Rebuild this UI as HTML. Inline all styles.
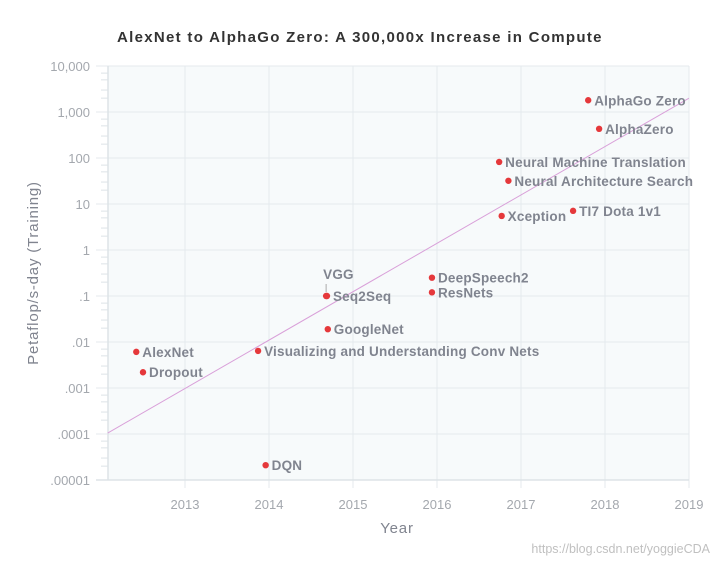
<!DOCTYPE html>
<html><head><meta charset="utf-8"><style>
body{margin:0;background:#fff;}
svg{display:block;font-family:"Liberation Sans",sans-serif;}
.lbl{fill:#80848f;font-weight:bold;font-size:13.5px;letter-spacing:0.2px;}
.tick{fill:#a4a8ae;font-size:13px;}
</style></head><body>
<svg id="chart" width="720" height="564">
<text x="117" y="42" font-size="15" font-weight="bold" fill="#333" letter-spacing="1.3">AlexNet to AlphaGo Zero: A 300,000x Increase in Compute</text>
<rect x="108" y="66" width="581" height="414" fill="#f7fafb"/>
<g id="grid"></g><g id="axes"></g><g id="trend"></g><g id="points"></g>
<text x="397" y="533" font-size="15" fill="#80848f" letter-spacing="0.8" text-anchor="middle">Year</text>
<text transform="translate(38,273) rotate(-90)" font-size="15" fill="#80848f" letter-spacing="0.8" text-anchor="middle">Petaflop/s-day (Training)</text>
<text x="710" y="553" font-size="12.5" fill="#c0c0c0" text-anchor="end">https://blog.csdn.net/yoggieCDA</text>
</svg>
<script>
const names=["AlexNet","Dropout","Visualizing and Understanding Conv Nets","DQN","VGG","Seq2Seq","GoogleNet","DeepSpeech2","ResNets","Neural Machine Translation","Neural Architecture Search","Xception","TI7 Dota 1v1","AlphaGo Zero","AlphaZero"];
const years=[2012.42,2012.5,2013.87,2013.96,2014.68,2014.69,2014.70,2015.94,2015.94,2016.74,2016.85,2016.77,2017.62,2017.8,2017.93];
const compute=[0.0061,0.0022,0.0064,0.000021,0.1,0.1,0.019,0.25,0.12,82,32,5.5,7.1,1800,430];
const xTicks=[2013,2014,2015,2016,2017,2018,2019];
const yTicks=[0.00001,0.0001,0.001,0.01,0.1,1,10,100,1000,10000];
const yTickLabels=[".00001",".0001",".001",".01",".1","1","10","100","1,000","10,000"];
const trendYears=[2012.08,2019];
const trendValues=[0.000105,2000];
const NS="http://www.w3.org/2000/svg";
const xs=y=>185+(y-2013)*84;
const ys=v=>66+(4-Math.log10(v))*46;
function mk(t,a,p){const e=document.createElementNS(NS,t);for(const k in a)e.setAttribute(k,a[k]);p.appendChild(e);return e;}
const grid=document.getElementById('grid'),axes=document.getElementById('axes');
xTicks.forEach(t=>{
 const l=mk('line',{x1:xs(t),x2:xs(t),y1:66,y2:488,stroke:'#e4eaee'},grid);
 
 
 const tx=mk('text',{x:xs(t),y:509,class:'tick','text-anchor':'middle'},axes);tx.textContent=t;
 
 
});
yTicks.forEach((t,i)=>{
 const l=mk('line',{x1:96,x2:689,y1:ys(t),y2:ys(t),stroke:'#e4eaee'},grid);
 
 
 const tx=mk('text',{x:90,y:ys(t)+5,class:'tick','text-anchor':'end'},axes);tx.textContent=yTickLabels[i];
 
 
 if(i<yTicks.length-1){[2,3,5,7].forEach(m=>{mk('line',{x1:101,x2:108,y1:ys(t*m),y2:ys(t*m),stroke:'#dde3e7'},axes);});}
});
mk('line',{x1:108,x2:108,y1:66,y2:480,stroke:'#dde3e7','stroke-width':1.5},axes);
mk('line',{x1:96,x2:689,y1:480,y2:480,stroke:'#dde3e7','stroke-width':1.5},axes);
const tr=mk('line',{x1:xs(trendYears[0]),y1:ys(trendValues[0]),x2:xs(trendYears[1]),y2:ys(trendValues[1]),stroke:'#d9a0d9','stroke-width':1},document.getElementById('trend'));


const pg=document.getElementById('points');
names.forEach((n,i)=>{
 const x=xs(years[i]),y=ys(compute[i]);
 const c=mk('circle',{cx:x,cy:y,r:3.2,fill:'#e5383b'},pg);
 
 
 let tx;
 if(n==="VGG"){
  mk('line',{x1:x,x2:x,y1:y-4,y2:y-12,stroke:'#aaa'},pg);
  tx=mk('text',{x:x-3,y:y-17,class:'lbl'},pg);
 } else tx=mk('text',{x:x+6,y:y+5,class:'lbl'},pg);
 tx.textContent=n;
 
 
});
</script>
</body></html>
